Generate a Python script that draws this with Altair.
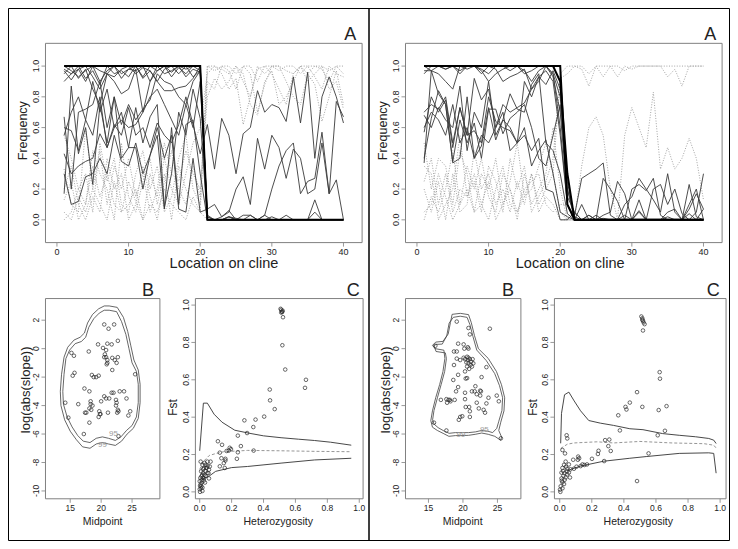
import altair as alt
import pandas as pd

# ---------------- data ----------------
LOC = [1,2,3,4,5,6,7,8,9,10,11,12,13,14,15,16,17,18,19,20,21,22,23,24,25,26,27,28,29,30,31,32,33,34,35,36,37,38,39,40]

# Left run, panel A: selected loci (solid), neutral loci (dotted)
AL_THICK = [1,1,1,1,1,1,1,1,1,1,1,1,1,1,1,1,1,1,1,1, 0,0,0,0,0,0,0,0,0,0,0,0,0,0,0,0,0,0,0,0]
AL_S1 = [1.0,0.97,0.93,0.97,1.0,0.9,0.97,1.0,0.95,0.98,1.0,0.93,1.0,0.97,1.0,0.96,1.0,0.98,1.0,0.97, 0,0,0,0,0,0,0,0,0,0,0,0,0,0,0,0,0,0,0,0]
AL_S2 = [0.97,0.91,0.98,1.0,0.93,0.85,0.95,0.93,0.98,1.0,0.95,0.99,0.97,0.9,0.84,0.84,0.86,0.87,0.92,1.0, 0.02,0,0,0,0,0,0,0,0,0,0,0,0,0,0,0,0,0,0,0]
AL_S3 = [0.67,0.2,0.7,0.72,0.75,0.9,0.6,0.8,0.62,0.75,0.65,0.72,0.78,0.95,0.9,0.88,0.8,0.75,0.9,0.97, 0.03,0,0,0.02,0,0,0,0,0,0,0,0,0,0,0,0,0,0,0,0]
AL_S4 = [0.43,0.3,0.35,0.38,0.4,0.56,0.47,0.62,0.55,0.73,0.55,0.6,0.47,0.63,0.55,0.5,0.62,0.8,0.62,0.43, 0.62,0.33,0.66,0.55,0.3,0.56,0.6,0.84,0.7,0.75,0.73,0.64,0.93,0.63,0.96,0.4,0.8,0.93,0.8,0.63]
AL_S5 = [0.17,0.87,0.43,0.6,0.23,0.75,0.5,0.8,0.4,0.47,0.47,0.2,0.42,0.55,0.07,0.6,0.1,0.62,0.65,0.3, 0.0,0.0,0.02,0.05,0.2,0.28,0.1,0.53,0.33,0.55,0.47,0.27,0.46,0.4,0.17,0.2,0.5,0.17,0.26,0.0]
AL_S6 = [0.95,1.0,0.92,0.98,0.85,0.75,0.95,0.9,0.82,0.85,0.98,0.7,0.9,0.97,1.0,0.93,0.99,0.95,1.0,1.0, 0,0,0,0,0,0,0,0,0,0,0,0,0,0,0,0,0,0,0,0]
AL_S7 = [0.6,0.58,0.45,0.65,0.55,0.8,0.47,0.6,0.7,0.47,0.73,0.5,0.67,0.75,0.08,0.3,0.7,0.55,0.85,0.66, 0,0,0,0,0,0,0,0,0,0,0,0,0,0,0,0,0,0,0,0]
AL_S8 = [0.3,0.1,0.12,0.28,0.3,0.4,0.3,0.55,0.38,0.35,0.5,0.3,0.42,0.6,0.4,0.55,0.07,0.05,0.4,0.05, 0.07,0.1,0.02,0.06,0.0,0.03,0.03,0.0,0.0,0.02,0.0,0.03,0.0,0.0,0.0,0.13,0.0,0.0,0.0,0.0]
AL_S9 = [0.98,0.95,1.0,0.92,0.97,0.88,1.0,0.95,0.97,0.93,1.0,0.92,0.97,0.9,0.98,1.0,0.95,1.0,0.93,0.97, 0.0,0.0,0.0,0.02,0.0,0.0,0.0,0.0,0.03,0.2,0.35,0.45,0.5,0.17,0.25,0.27,0.57,0.17,0.77,0.67]
AL_S10 = [0.9,0.95,0.98,0.9,1.0,0.97,0.95,1.0,0.92,0.98,0.97,1.0,0.9,1.0,0.95,0.97,1.0,0.93,0.98,0.96, 0.02,0.0,0.0,0.02,0.01,0.0,0.03,0.0,0.03,0.0,0.0,0.0,0.0,0.0,0.0,0.05,0.0,0.0,0.0,0.0]
AL_S11 = [0.55,0.7,0.8,0.65,0.9,0.7,0.85,0.6,0.65,0.6,0.62,0.7,0.8,0.85,0.75,0.65,0.55,0.75,0.6,0.9, 0,0,0,0,0,0,0,0,0,0,0,0,0,0,0,0,0,0,0,0]
AL_D1 = [0.0,0.05,0.2,0.1,0.35,0.15,0.3,0.1,0.05,0.25,0.12,0.0,0.3,0.15,0.4,0.2,0.1,0.3,0.5,0.6, 0.95,1.0,0.98,0.95,1.0,0.9,0.8,1.0,0.95,1.0,1.0,0.97,0.95,1.0,1.0,0.93,0.85,1.0,0.95,0.93]
AL_D2 = [0.33,0.1,0.05,0.6,0.2,0.45,0.1,0.35,0.2,0.4,0.15,0.3,0.05,0.2,0.5,0.3,0.25,0.45,0.3,0.2, 0.8,0.92,0.85,0.9,1.0,0.95,0.75,0.68,0.9,0.97,0.75,0.8,0.9,1.0,0.95,0.88,0.64,0.8,0.97,0.75]
AL_D3 = [0.13,0.25,0.0,0.1,0.45,0.3,0.2,0.0,0.5,0.15,0.05,0.25,0.4,0.1,0.3,0.0,0.35,0.2,0.1,0.05, 1.0,1.0,0.95,0.85,0.92,0.62,0.8,0.98,1.0,0.95,0.85,0.75,0.95,1.0,0.9,0.95,1.0,0.85,0.9,0.72]
AL_D4 = [0.55,0.4,0.2,0.3,0.05,0.5,0.25,0.4,0.1,0.05,0.3,0.45,0.2,0.35,0.05,0.15,0.4,0.55,0.2,0.1, 0.9,0.85,1.0,0.97,0.85,1.0,0.95,0.7,0.88,1.0,1.0,0.9,0.8,0.75,0.95,1.0,0.98,0.9,1.0,0.95]
AL_D5 = [0.05,0.0,0.15,0.05,0.2,0.1,0.0,0.25,0.05,0.1,0.2,0.0,0.1,0.05,0.2,0.1,0.05,0.0,0.15,0.05, 0,0,0,0,0,0,0,0,0,0,0,0,0,0,0,0,0,0,0,0]
AL_D6 = [0.2,0.35,0.1,0.0,0.15,0.05,0.4,0.2,0.3,0.0,0.1,0.35,0.15,0.0,0.25,0.45,0.2,0.1,0.35,0.15, 1.0,0.97,1.0,1.0,0.95,1.0,1.0,0.9,1.0,1.0,0.97,1.0,1.0,0.95,1.0,1.0,1.0,0.97,1.0,1.0]

# Right run, panel A
AR_THICK1 = [1,1,1,1,1,1,1,1,1,1,1,1,1,1,1,1,1,1,1,0.9, 0.3,0,0,0,0,0,0,0,0,0,0,0,0,0,0,0,0,0,0,0]
AR_THICK2 = [1,1,1,1,1,1,1,1,1,1,1,1,1,1,1,1,1,1,1,1.0, 0.1,0,0,0,0,0,0,0,0,0,0,0,0,0,0,0,0,0,0,0]
AR_S1 = [0.97,0.97,1.0,0.98,1.0,0.95,1.0,1.0,0.97,0.9,0.95,0.98,1.0,1.0,0.95,0.97,1.0,1.0,0.95,0.8, 0.2,0,0,0,0,0,0,0,0,0,0,0,0,0,0,0,0,0,0,0]
AR_S2 = [0.7,0.75,0.72,0.8,0.5,0.73,0.55,0.92,0.78,0.85,0.6,0.75,0.7,0.73,0.76,0.85,0.9,1.0,0.95,0.6, 0.1,0.02,0.0,0.03,0.0,0.27,0.2,0.12,0.0,0.0,0.06,0.0,0.2,0.23,0.1,0.2,0.04,0.0,0.05,0.3]
AR_S3 = [0.37,0.97,0.82,0.75,0.38,0.65,0.5,0.63,0.4,0.72,0.72,0.56,0.66,0.7,0.75,0.6,0.4,0.35,0.55,0.75, 0.2,0.03,0.27,0.3,0.33,0.37,0.03,0.0,0.0,0.2,0.23,0.19,0.27,0.03,0.0,0.0,0.0,0.1,0.2,0.0]
AR_S4 = [0.68,0.6,0.73,0.65,0.6,0.87,0.45,0.7,0.6,0.9,0.55,0.65,0.82,0.72,0.7,0.88,0.95,0.5,0.45,0.3, 0.04,0.0,0.1,0.0,0.03,0.0,0.0,0.0,0.1,0.15,0.27,0.2,0.13,0.05,0.3,0.05,0.0,0.07,0.17,0.07]
AR_S5 = [0.57,0.8,0.7,0.78,0.47,0.73,0.55,0.58,0.5,0.8,0.64,0.6,0.58,0.5,0.6,0.35,0.45,0.52,0.3,0.05, 0.02,0.0,0.0,0.0,0.0,0.03,0.05,0.25,0.17,0.0,0.05,0.0,0.0,0.0,0.05,0.07,0.0,0.23,0.02,0.0]
AR_S6 = [0.4,0.66,0.84,0.75,0.37,0.4,0.8,0.4,0.48,0.73,0.52,0.65,0.6,0.5,0.55,0.45,0.53,0.2,0.18,0.0, 0.0,0.05,0.0,0.03,0.0,0.01,0.0,0.0,0.03,0.0,0.13,0.0,0.0,0.0,0.02,0.0,0.0,0.04,0.0,0.07]
AR_S7 = [1.0,0.97,0.95,0.9,0.85,1.0,0.98,1.0,0.95,1.0,0.98,0.9,0.93,0.95,0.98,0.85,0.93,0.97,0.9,0.55, 0.1,0,0,0,0,0,0,0,0,0,0,0,0,0,0,0,0,0,0,0]
AR_S8 = [0.95,1.0,1.0,0.98,1.0,0.97,1.0,1.0,0.98,0.95,1.0,1.0,0.97,1.0,0.97,0.9,0.97,1.0,0.93,0.7, 0.15,0.05,0,0,0,0,0,0,0,0,0,0,0,0,0,0,0,0,0,0]
AR_S9 = [0.6,0.7,0.65,0.55,0.75,0.5,0.6,0.4,0.55,0.5,0.6,0.7,0.45,0.5,0.9,0.8,0.93,0.88,0.97,0.85, 0.25,0,0,0,0,0,0,0,0,0,0,0,0,0,0,0,0,0,0,0]
AR_D1 = [0.05,0.1,0.3,0.15,0.0,0.1,0.2,0.05,0.1,0.25,0.0,0.1,0.2,0.05,0.15,0.3,0.1,0.2,0.3,0.92, 0.95,1.0,0.98,0.87,1.0,0.93,1.0,0.93,1.0,0.98,1.0,1.0,1.0,1.0,0.93,0.98,0.87,1.0,1.0,1.0]
AR_D2 = [0.25,0.4,0.1,0.3,0.05,0.2,0.15,0.3,0.1,0.0,0.2,0.35,0.1,0.05,0.2,0.25,0.3,0.1,0.05,0.1, 0.1,0.0,0.35,0.6,0.67,0.55,0.2,0.0,0.55,0.73,0.6,0.47,0.83,0.33,0.47,0.33,0.4,0.53,0.4,0.13]
AR_D3 = [0.5,0.2,0.4,0.35,0.1,0.45,0.3,0.05,0.3,0.2,0.4,0.1,0.25,0.5,0.15,0.2,0.35,0.5,0.3,0.05, 0,0,0,0,0,0,0,0,0,0,0,0,0,0,0,0,0,0,0,0]
AR_D4 = [0.0,0.15,0.05,0.2,0.45,0.1,0.35,0.2,0.4,0.15,0.05,0.3,0.2,0.0,0.3,0.1,0.2,0.3,0.6,0.2, 0,0,0,0,0,0,0,0,0,0,0,0,0,0,0,0,0,0,0,0]
AR_D5 = [0.2,0.05,0.25,0.0,0.3,0.05,0.1,0.45,0.2,0.3,0.1,0.2,0.05,0.25,0.1,0.3,0.05,0.15,0.1,0.0, 0,0,0,0,0,0,0,0,0,0,0,0,0,0,0,0,0,0,0,0]
AR_D6 = [0.35,0.3,0.0,0.1,0.2,0.55,0.15,0.25,0.05,0.35,0.25,0.05,0.4,0.2,0.35,0.05,0.15,0.25,0.4,0.95, 1.0,1.0,1.0,0.95,1.0,1.0,1.0,1.0,0.97,1.0,1.0,1.0,1.0,1.0,1.0,1.0,1.0,1.0,1.0,1.0]

# Panel B (left run): cline midpoint vs log(abs(slope))
BL_MID = [20.5,22.1,21.2,22.7,19.5,21.0,21.7,20.3,20.8,20.6,20.8,20.5,21.0,21.0,20.9,22.2,22.7,22.5,21.8,18.0,21.8,15.2,15.6,15.4,15.7,18.5,19.2,19.6,18.8,17.3,18.1,21.7,22.0,23.0,23.7,20.5,20.8,21.3,22.4,22.5,22.4,22.7,22.6,22.8,24.1,24.7,24.4,18.3,18.3,18.6,18.4,18.1,17.4,17.6,16.3,19.7,19.8,19.6,20.0,19.9,21.1,18.1,17.2,22.8,14.2,14.7,25.5]
BL_SLOPE = [1.7,1.7,1.4,0.55,0.3,0.35,0.3,0.05,-0.1,-0.4,-0.6,-0.6,-0.8,-1.0,-1.1,-0.8,-0.6,-1.0,-0.65,-0.2,-1.5,-0.3,-0.5,-1.9,-1.7,-1.85,-2.0,-1.9,-2.0,-2.8,-3.0,-3.1,-3.1,-3.0,-3.0,-3.35,-3.5,-3.5,-3.6,-3.8,-4.0,-4.3,-4.5,-4.4,-3.5,-4.4,-4.7,-3.7,-3.9,-4.0,-4.3,-4.2,-4.5,-4.5,-3.9,-4.4,-4.6,-4.8,-3.7,-4.6,-4.5,-5.2,-6.0,-6.15,-3.8,-4.85,-1.8]
BL_C99_X = [21.3,22.6,23.6,24.3,24.8,25.3,26.0,26.3,26.3,26.0,25.2,24.2,23.3,22.3,21.2,20.2,19.2,18.2,17.0,16.0,15.0,14.1,13.5,13.4,13.6,14.0,14.6,15.6,16.6,17.3,17.8,18.6,19.6,20.5,21.3]
BL_C99_Y = [3.0,2.9,2.2,1.2,0.2,-0.8,-1.5,-2.5,-3.8,-4.9,-5.6,-6.0,-6.5,-6.8,-6.7,-6.6,-6.7,-7.0,-6.9,-6.4,-5.8,-5.0,-4.0,-3.0,-1.8,-0.6,0.1,0.6,0.8,1.1,1.8,2.4,2.8,3.0,3.0]
BL_C95_X = [21.3,22.5,23.3,24.0,24.5,25.0,25.7,26.0,26.0,25.7,25.0,24.1,23.2,22.3,21.2,20.2,19.2,18.2,17.1,16.2,15.3,14.5,13.9,13.8,14.0,14.3,14.9,15.8,16.8,17.5,18.0,18.8,19.7,20.5,21.3]
BL_C95_Y = [2.7,2.6,1.9,1.0,0.0,-1.0,-1.6,-2.5,-3.8,-4.8,-5.4,-5.75,-6.2,-6.45,-6.3,-6.2,-6.3,-6.6,-6.5,-6.1,-5.5,-4.8,-3.9,-3.0,-1.8,-0.7,-0.1,0.35,0.5,0.8,1.5,2.1,2.5,2.7,2.7]

# Panel B (right run)
BR_MID = [19.1,20.8,21.0,23.9,19.3,20.1,20.7,18.7,19.1,20.2,20.8,20.1,20.3,20.6,20.7,20.8,21.0,21.2,20.5,20.8,21.4,21.5,20.6,21.1,21.3,20.9,19.1,19.6,18.7,20.3,20.6,20.4,23.4,22.7,19.3,18.6,21.8,21.7,21.3,22.5,22.6,19.3,19.0,20.3,22.0,22.5,24.9,25.2,23.7,16.8,17.6,17.9,18.1,18.2,17.7,18.8,20.3,20.4,20.9,21.0,22.0,22.3,23.0,23.2,23.4,19.6,19.9,19.4,21.0,15.8,17.6,25.5,16.0]
BR_SLOPE = [1.9,1.45,1.0,1.4,0.35,0.3,0.1,-0.2,-0.2,0.0,0.0,-0.64,-0.74,-0.57,-0.8,-0.64,-0.74,-0.92,-0.97,-1.03,-0.74,-1.03,-1.26,-1.14,-1.26,-1.42,-0.7,-0.8,-1.15,-1.6,-2.07,-2.1,-1.3,-2.0,-1.84,-2.2,-2.64,-3.0,-3.0,-2.95,-3.0,-2.7,-3.0,-3.1,-3.2,-3.3,-3.3,-3.7,-3.45,-3.6,-3.55,-3.6,-3.6,-3.7,-3.8,-3.6,-3.55,-4.1,-4.1,-4.4,-3.8,-4.2,-4.3,-4.5,-3.85,-4.8,-4.75,-5.0,-4.8,-5.2,-5.75,-6.3,0.2]
BR_C99_X = [18.43,19.62,20.81,21.2,21.67,22.24,23.67,24.86,25.58,26.05,25.95,25.48,25.19,25.6,25.48,24.62,23.67,22.72,21.77,20.81,19.86,18.91,17.96,17.24,16.29,15.58,15.34,15.58,16.05,16.62,17.1,17.38,17.24,15.96,15.58,16.05,17.1,17.86,18.19,18.43]
BR_C99_Y = [2.41,2.48,2.39,1.84,0.92,0.0,-0.69,-1.61,-2.53,-3.45,-4.37,-5.17,-5.75,-6.21,-6.44,-6.16,-6.02,-5.93,-6.02,-6.09,-6.11,-6.11,-6.16,-5.98,-5.75,-5.52,-5.06,-4.37,-3.45,-2.53,-1.61,-0.69,-0.11,0.0,0.23,0.46,0.51,1.03,1.84,2.41]
BR_C95_X = [18.6,19.6,20.6,21.0,21.45,22.0,23.4,24.6,25.3,25.75,25.65,25.2,24.9,24.3,23.6,22.7,21.8,20.8,19.9,18.9,18.0,17.3,16.4,15.8,15.6,15.8,16.3,16.85,17.35,17.6,17.45,16.1,15.8,16.1,17.0,17.65,18.0,18.6]
BR_C95_Y = [2.2,2.28,2.2,1.7,0.85,-0.1,-0.85,-1.75,-2.6,-3.45,-4.35,-5.1,-5.6,-5.9,-5.8,-5.75,-5.85,-5.9,-5.9,-5.9,-5.95,-5.8,-5.55,-5.3,-5.0,-4.35,-3.45,-2.5,-1.6,-0.7,-0.3,-0.2,0.2,0.3,0.32,0.9,1.8,2.2]

# Panel C (left run): heterozygosity vs Fst
CL_HET = [0.507,0.511,0.515,0.52,0.511,0.517,0.522,0.518,0.536,0.666,0.66,0.439,0.441,0.47,0.404,0.35,0.336,0.28,0.297,0.239,0.258,0.338,0.114,0.14,0.126,0.188,0.196,0.182,0.169,0.239,0.233,0.161,0.136,0.151,0.161,0.126,0.157,
          0.006,0.017,0.027,0.037,0.021,0.011,0.0,0.006,0.0,0.002,0.017,0.012,0.027,0.037,0.048,0.058,0.063,0.068,0.048,0.037,0.021,0.009,0.004,0.002,0.012,0.021,0.029,0.04,0.033,0.017,0.058,
          0.01,0.025,0.045,0.03,0.015,0.055,0.05,0.008]
CL_FST = [0.98,0.975,0.965,0.97,0.96,0.963,0.935,0.785,0.655,0.6,0.557,0.548,0.49,0.443,0.403,0.387,0.347,0.383,0.315,0.301,0.245,0.221,0.271,0.252,0.21,0.236,0.229,0.221,0.219,0.212,0.177,0.177,0.18,0.154,0.168,0.137,0.128,
          0.162,0.145,0.128,0.11,0.101,0.083,0.057,0.04,0.014,0.0,0.023,0.05,0.072,0.085,0.101,0.119,0.136,0.162,0.162,0.145,0.122,0.11,0.075,0.032,0.063,0.075,0.092,0.128,0.05,0.005,0.072,
          0.03,0.06,0.13,0.155,0.09,0.1,0.14,0.02]
CL_UP_H = [0.0,0.023,0.048,0.09,0.14,0.22,0.31,0.40,0.51,0.62,0.72,0.82,0.95]
CL_UP_F = [0.22,0.475,0.475,0.416,0.373,0.33,0.314,0.30,0.29,0.282,0.275,0.266,0.25]
CL_MID_H = [0.0,0.01,0.02,0.06,0.1,0.15,0.3,0.51,0.72,0.95]
CL_MID_F = [0.12,0.14,0.16,0.195,0.205,0.215,0.222,0.22,0.217,0.215]
CL_LOW_H = [0.02,0.06,0.1,0.2,0.3,0.51,0.72,0.95]
CL_LOW_F = [0.07,0.085,0.11,0.13,0.136,0.154,0.171,0.18]

# Panel C (right run)
CR_HET = [0.509,0.515,0.519,0.523,0.529,0.515,0.519,0.623,0.625,0.482,0.437,0.41,0.416,0.515,0.617,0.666,0.365,0.375,0.611,0.656,0.043,0.047,0.283,0.309,0.303,0.318,0.242,0.238,0.554,0.017,0.033,0.115,0.121,0.113,0.084,0.201,0.277,0.142,0.154,0.17,0.13,0.105,0.089,0.482,
          0.037,0.027,0.017,0.047,0.057,0.011,0.023,0.031,0.017,0.006,0.002,0.017,0.027,0.037,0.047,0.064,0.011,0.021,0.039,0.057,0.067,0.004,0.03,0.013,0.045]
CR_FST = [0.939,0.929,0.916,0.907,0.898,0.921,0.864,0.641,0.606,0.534,0.478,0.455,0.441,0.455,0.438,0.459,0.41,0.329,0.303,0.327,0.303,0.286,0.277,0.28,0.245,0.219,0.22,0.203,0.206,0.224,0.206,0.189,0.18,0.172,0.172,0.177,0.165,0.147,0.144,0.147,0.138,0.135,0.124,0.058,
          0.162,0.145,0.128,0.124,0.103,0.103,0.086,0.065,0.051,0.03,0.012,0.019,0.042,0.077,0.094,0.077,0.072,0.112,0.135,0.147,0.121,0.0,0.1,0.06,0.11]
CR_UP_H = [0.006,0.011,0.03,0.057,0.09,0.13,0.181,0.253,0.335,0.437,0.519,0.642,0.745,0.847,0.929,0.96,0.975]
CR_UP_F = [0.26,0.42,0.52,0.534,0.487,0.434,0.382,0.368,0.356,0.338,0.333,0.312,0.303,0.295,0.286,0.277,0.259]
CR_MID_H = [0.006,0.02,0.047,0.089,0.232,0.335,0.5,0.7,0.9,0.96,0.975]
CR_MID_F = [0.233,0.24,0.255,0.262,0.268,0.262,0.27,0.262,0.258,0.25,0.235]
CR_LOW_H = [0.047,0.13,0.273,0.437,0.539,0.745,0.929,0.96,0.975]
CR_LOW_F = [0.114,0.138,0.164,0.18,0.189,0.206,0.209,0.206,0.10]

A_XTICKS = [0, 10, 20, 30, 40]
A_YTICKS = [0.0, 0.2, 0.4, 0.6, 0.8, 1.0]
B_XTICKS = [15, 20, 25]
B_YTICKS = [2, 0, -2, -4, -6, -8, -10]
C_TICKS = [0.0, 0.2, 0.4, 0.6, 0.8, 1.0]

# contour level labels: (midpoint, slope, level)
BL_LEVELS = [(22.0, -6.0, "95"), (20.2, -6.75, "99")]
BR_LEVELS = [(23.1, -5.7, "95"), (19.7, -6.05, "99")]

# ---------------- layout ----------------
W, H = 722, 533
FONT = "Liberation Sans"
BOXC = "#808080"
TXT = "#222222"


def X(px):
    return (px - 3) * W / 732.0


def Y(py):
    return (py - 3) * H / 543.0


PANELS = {
    "AL": dict(box=(41, 362, 39, 242), xd=[-1.6, 42.6], yd=[-0.148, 1.148]),
    "AR": dict(box=(406, 727, 39, 242), xd=[-1.6, 42.6], yd=[-0.148, 1.148]),
    "BL": dict(box=(41, 157, 299, 503), xd=[11.0, 29.5], yd=[-10.55, 3.52]),
    "BR": dict(box=(406, 523, 299, 503), xd=[11.67, 28.4], yd=[-10.55, 3.52]),
    "CL": dict(box=(193, 363, 299, 503), xd=[-0.027, 1.024], yd=[-0.037, 1.035]),
    "CR": dict(box=(557, 731, 299, 503), xd=[-0.033, 1.037], yd=[-0.037, 1.035]),
}


def xs(p):
    b = PANELS[p]["box"]
    return alt.Scale(domain=PANELS[p]["xd"], range=[X(b[0]), X(b[1])], nice=False, zero=False)


def ys(p):
    b = PANELS[p]["box"]
    return alt.Scale(domain=PANELS[p]["yd"], range=[Y(b[3]), Y(b[2])], nice=False, zero=False)


def enc_xy(p, xf="x", yf="y"):
    return dict(x=alt.X(f"{xf}:Q", scale=xs(p), axis=None),
                y=alt.Y(f"{yf}:Q", scale=ys(p), axis=None))


ONE = pd.DataFrame({"k": [0]})


def series_df(named):
    rows = []
    for name, vals in named.items():
        for xv, yv in zip(LOC, vals):
            rows.append({"id": name, "x": xv, "y": yv})
    return pd.DataFrame(rows)


def path_df(xv, yv):
    return pd.DataFrame({"x": xv, "y": yv, "i": list(range(len(xv)))})


def fmt1(v):
    return f"{v:.1f}"


def axes(p, xt, yt, xlab, ylab, fs):
    b = PANELS[p]["box"]
    out = []
    xdf = pd.DataFrame({"v": xt, "lab": [xlab(v) for v in xt]})
    ydf = pd.DataFrame({"v": yt, "lab": [ylab(v) for v in yt]})
    out.append(alt.Chart(xdf).mark_rule(color=BOXC, strokeWidth=0.8).encode(
        x=alt.X("v:Q", scale=xs(p), axis=None), y=alt.value(Y(b[3])), y2=alt.value(Y(b[3]) + 4)))
    out.append(alt.Chart(xdf).mark_text(font=FONT, fontSize=fs, color=TXT, baseline="middle").encode(
        x=alt.X("v:Q", scale=xs(p), axis=None), y=alt.value(Y(b[3]) + 9), text="lab:N"))
    out.append(alt.Chart(ydf).mark_rule(color=BOXC, strokeWidth=0.8).encode(
        y=alt.Y("v:Q", scale=ys(p), axis=None), x=alt.value(X(b[0])), x2=alt.value(X(b[0]) - 4)))
    out.append(alt.Chart(ydf).mark_text(font=FONT, fontSize=fs, color=TXT, baseline="middle", angle=270).encode(
        y=alt.Y("v:Q", scale=ys(p), axis=None), x=alt.value(X(b[0]) - 9.5), text="lab:N"))
    out.append(alt.Chart(ONE).mark_rect(fill="transparent", stroke=BOXC, strokeWidth=1).encode(
        x=alt.value(X(b[0])), x2=alt.value(X(b[1])), y=alt.value(Y(b[2])), y2=alt.value(Y(b[3]))))
    return out


def label(text, px, py, size=11, angle=0, color=TXT):
    kw = dict(font=FONT, fontSize=size, color=color, align="center", baseline="middle", text=text)
    if angle:
        kw["angle"] = angle
    return alt.Chart(ONE).mark_text(**kw).encode(x=alt.value(X(px)), y=alt.value(Y(py)))


layers = []

# outer frames
for (a, bb) in [(3, 369), (369, 735)]:
    layers.append(alt.Chart(ONE).mark_rect(fill="transparent", stroke="#000000", strokeWidth=1).encode(
        x=alt.value(max(X(a), 0.5)), x2=alt.value(min(X(bb), W - 0.5)), y=alt.value(0.5), y2=alt.value(H - 0.5)))


def panel_a(p, dotted, solid, thick):
    out = []
    out.append(alt.Chart(series_df(dotted)).mark_line(color="#9a9a9a", strokeWidth=0.9, strokeDash=[1, 1.6]).encode(
        detail="id:N", order="x:Q", **enc_xy(p)))
    out.append(alt.Chart(series_df(solid)).mark_line(color="#3a3a3a", strokeWidth=0.9).encode(
        detail="id:N", order="x:Q", **enc_xy(p)))
    out.append(alt.Chart(series_df(thick)).mark_line(color="#000000", strokeWidth=2.0).encode(
        detail="id:N", order="x:Q", **enc_xy(p)))
    return out


layers += panel_a("AL",
                  {"d1": AL_D1, "d2": AL_D2, "d3": AL_D3, "d4": AL_D4, "d5": AL_D5, "d6": AL_D6},
                  {"s1": AL_S1, "s2": AL_S2, "s3": AL_S3, "s4": AL_S4, "s5": AL_S5, "s6": AL_S6,
                   "s7": AL_S7, "s8": AL_S8, "s9": AL_S9, "s10": AL_S10, "s11": AL_S11},
                  {"t1": AL_THICK})
layers += panel_a("AR",
                  {"d1": AR_D1, "d2": AR_D2, "d3": AR_D3, "d4": AR_D4, "d5": AR_D5, "d6": AR_D6},
                  {"s1": AR_S1, "s2": AR_S2, "s3": AR_S3, "s4": AR_S4, "s5": AR_S5, "s6": AR_S6,
                   "s7": AR_S7, "s8": AR_S8, "s9": AR_S9},
                  {"t1": AR_THICK1, "t2": AR_THICK2})


def panel_b(p, mid, slope, c99x, c99y, c95x, c95y):
    out = []
    for cx, cy in [(c99x, c99y), (c95x, c95y)]:
        out.append(alt.Chart(path_df(cx, cy)).mark_line(color="#404040", strokeWidth=0.8).encode(
            order="i:Q", **enc_xy(p)))
    out.append(alt.Chart(pd.DataFrame({"x": mid, "y": slope})).mark_point(
        shape="circle", filled=False, size=13, strokeWidth=0.7, color="#2a2a2a", opacity=1).encode(**enc_xy(p)))
    return out


def panel_c(p, het, fst, up, mid, low):
    out = []
    out.append(alt.Chart(pd.DataFrame({"x": up[0], "y": up[1]})).mark_line(color="#333333", strokeWidth=0.9).encode(**enc_xy(p)))
    out.append(alt.Chart(pd.DataFrame({"x": low[0], "y": low[1]})).mark_line(color="#333333", strokeWidth=0.9).encode(**enc_xy(p)))
    out.append(alt.Chart(pd.DataFrame({"x": mid[0], "y": mid[1]})).mark_line(color="#8a8a8a", strokeWidth=0.9, strokeDash=[3, 2]).encode(**enc_xy(p)))
    out.append(alt.Chart(pd.DataFrame({"x": het, "y": fst})).mark_point(
        shape="circle", filled=False, size=13, strokeWidth=0.7, color="#2a2a2a", opacity=1).encode(**enc_xy(p)))
    return out


layers += panel_b("BL", BL_MID, BL_SLOPE, BL_C99_X, BL_C99_Y, BL_C95_X, BL_C95_Y)
layers += panel_b("BR", BR_MID, BR_SLOPE, BR_C99_X, BR_C99_Y, BR_C95_X, BR_C95_Y)
layers += panel_c("CL", CL_HET, CL_FST, (CL_UP_H, CL_UP_F), (CL_MID_H, CL_MID_F), (CL_LOW_H, CL_LOW_F))
layers += panel_c("CR", CR_HET, CR_FST, (CR_UP_H, CR_UP_F), (CR_MID_H, CR_MID_F), (CR_LOW_H, CR_LOW_F))

# axes
for p in ["AL", "AR"]:
    layers += axes(p, A_XTICKS, A_YTICKS, lambda v: str(v), fmt1, 9)
for p in ["BL", "BR"]:
    layers += axes(p, B_XTICKS, B_YTICKS, lambda v: str(v), lambda v: str(v), 8.5)
for p in ["CL", "CR"]:
    layers += axes(p, C_TICKS, C_TICKS, fmt1, fmt1, 8.5)

# contour level labels (panel B)
for p, pos in [("BL", BL_LEVELS), ("BR", BR_LEVELS)]:
    df = pd.DataFrame({"x": [a for a, _, _ in pos], "y": [b for _, b, _ in pos], "t": [c for _, _, c in pos]})
    layers.append(alt.Chart(df).mark_text(font=FONT, fontSize=8, color="#9a9a9a", baseline="middle").encode(
        text="t:N", **enc_xy(p)))

# titles & panel letters
for off in [0, 365]:
    layers.append(label("Frequency", 18 + off, 128, 12.5, 270))
    layers.append(label("log(abs(slope))", 21 + off, 392, 13, 270))
    layers.append(label("Fst", 170 + off, 410, 12, 270))
    layers.append(label("Midpoint", 99 + off, 527, 10.5))
    layers.append(label("Heterozygosity", 277 + off, 527, 10.5))
    layers.append(label("A", 350 + off, 31, 18))
    layers.append(label("B", 145 + off, 291, 18))
    layers.append(label("C", 353 + off, 291, 18))
layers.append(label("Location on cline", 222, 264, 14.5))
layers.append(label("Location on cline", 573, 264, 14.5))

chart = alt.layer(*layers).resolve_scale(x="independent", y="independent").properties(
    width=W, height=H, padding=0
).configure_view(stroke="transparent")

chart.save("out.html", embed_options={"renderer": "svg", "actions": False})
